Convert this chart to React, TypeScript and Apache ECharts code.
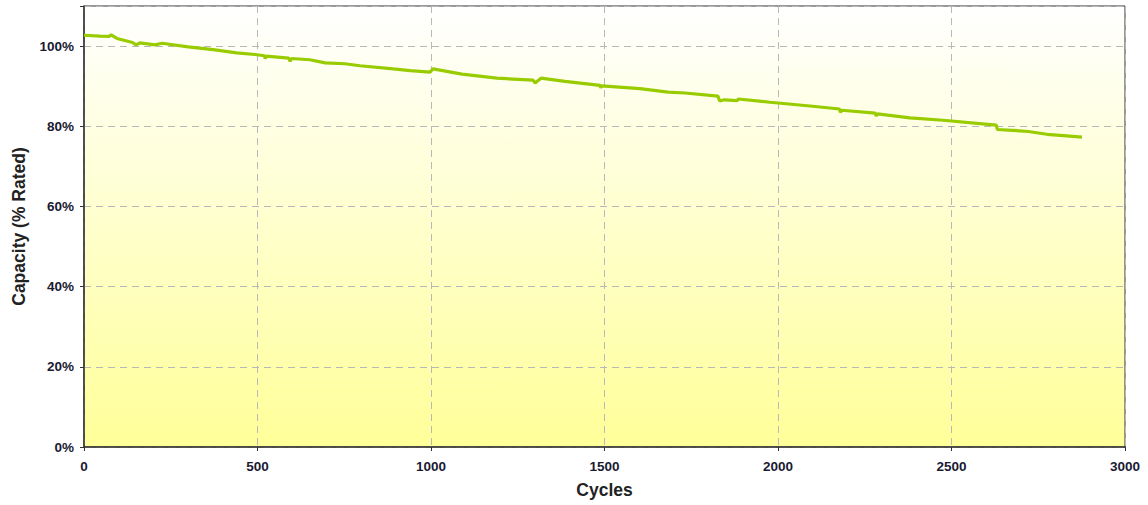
import React, { useEffect, useRef } from "react";
import * as echarts from "echarts";

const cycles = [0, 46, 72, 78, 95, 140, 150, 161, 205, 225, 300, 372, 440, 493, 520, 522, 525, 590, 594, 598, 651, 695, 752, 795, 891, 940, 997, 1006, 1089, 1190, 1294, 1300, 1317, 1386, 1487, 1489, 1492, 1602, 1683, 1732, 1827, 1832, 1845, 1882, 1886, 1977, 2100, 2177, 2180, 2184, 2280, 2283, 2287, 2380, 2476, 2629, 2632, 2675, 2721, 2775, 2850, 2876];
const capacity = [102.7, 102.5, 102.4, 102.8, 101.9, 100.9, 100.3, 100.8, 100.3, 100.7, 99.8, 99.1, 98.3, 97.9, 97.6, 96.9, 97.5, 97.0, 96.2, 96.9, 96.6, 95.8, 95.6, 95.1, 94.3, 93.9, 93.5, 94.3, 93.0, 92.0, 91.5, 90.8, 92.0, 91.2, 90.2, 89.6, 90.1, 89.4, 88.5, 88.3, 87.5, 86.3, 86.6, 86.4, 86.8, 86.0, 85.0, 84.3, 83.5, 84.0, 83.3, 82.6, 83.1, 82.1, 81.5, 80.3, 79.2, 79.0, 78.7, 78.0, 77.5, 77.3];
const yTicks = [0, 20, 40, 60, 80, 100];
const xTicks = [0, 500, 1000, 1500, 2000, 2500, 3000];

export default function App() {
  const ref = useRef<HTMLDivElement>(null);
  useEffect(() => {
    document.body.style.margin = "0";
    document.body.style.overflow = "hidden";
    const chart = echarts.init(ref.current!, undefined, { renderer: "svg" });
    const font = "'Liberation Sans', Arial, sans-serif";
    chart.setOption({
      animation: false,
      grid: {
        left: 84,
        right: 23,
        top: 6,
        bottom: 58,
        show: true,
        borderColor: "#333",
        borderWidth: 1,
        backgroundColor: {
          type: "linear",
          x: 0,
          y: 0,
          x2: 0,
          y2: 1,
          colorStops: [
            { offset: 0, color: "#ffffff" },
            { offset: 1, color: "#ffff99" },
          ],
        },
      },
      xAxis: {
        type: "value",
        min: xTicks[0],
        max: xTicks[xTicks.length - 1],
        interval: 500,
        name: "Cycles",
        nameLocation: "middle",
        nameGap: 34,
        nameTextStyle: { fontFamily: font, fontWeight: "bold", fontSize: 17.5, color: "#222" },
        axisLine: { lineStyle: { color: "#333", width: 1.5 } },
        axisTick: { show: true, length: 4, lineStyle: { color: "#333" } },
        axisLabel: {
          fontFamily: font,
          fontWeight: "bold",
          fontSize: 13.5,
          color: "#1a1a33",
          margin: 12,
          formatter: (v: number) => String(v),
        },
        splitLine: { show: true, lineStyle: { color: "#b8b8b8", type: [7, 5], width: 1 } },
      },
      yAxis: {
        type: "value",
        min: yTicks[0],
        max: 110,
        interval: 20,
        name: "Capacity (% Rated)",
        nameLocation: "middle",
        nameGap: 56,
        nameTextStyle: { fontFamily: font, fontWeight: "bold", fontSize: 17.5, color: "#222" },
        axisLine: { show: true, lineStyle: { color: "#333", width: 1.5 } },
        axisTick: { show: true, length: 4, lineStyle: { color: "#333" } },
        axisLabel: {
          fontFamily: font,
          fontWeight: "bold",
          fontSize: 13.5,
          color: "#1a1a33",
          margin: 10,
          formatter: (v: number) => (yTicks.includes(v) ? v + "%" : ""),
        },
        splitLine: { show: true, lineStyle: { color: "#b8b8b8", type: [7, 5], width: 1 } },
      },
      series: [
        {
          type: "line",
          data: cycles.map((c, i) => [c, capacity[i]]),
          showSymbol: false,
          symbol: "none",
          lineStyle: { color: "#99cc00", width: 3.2 },
        },
      ],
    });
    return () => chart.dispose();
  }, []);
  return <div ref={ref} style={{ width: 1148, height: 505 }} />;
}
